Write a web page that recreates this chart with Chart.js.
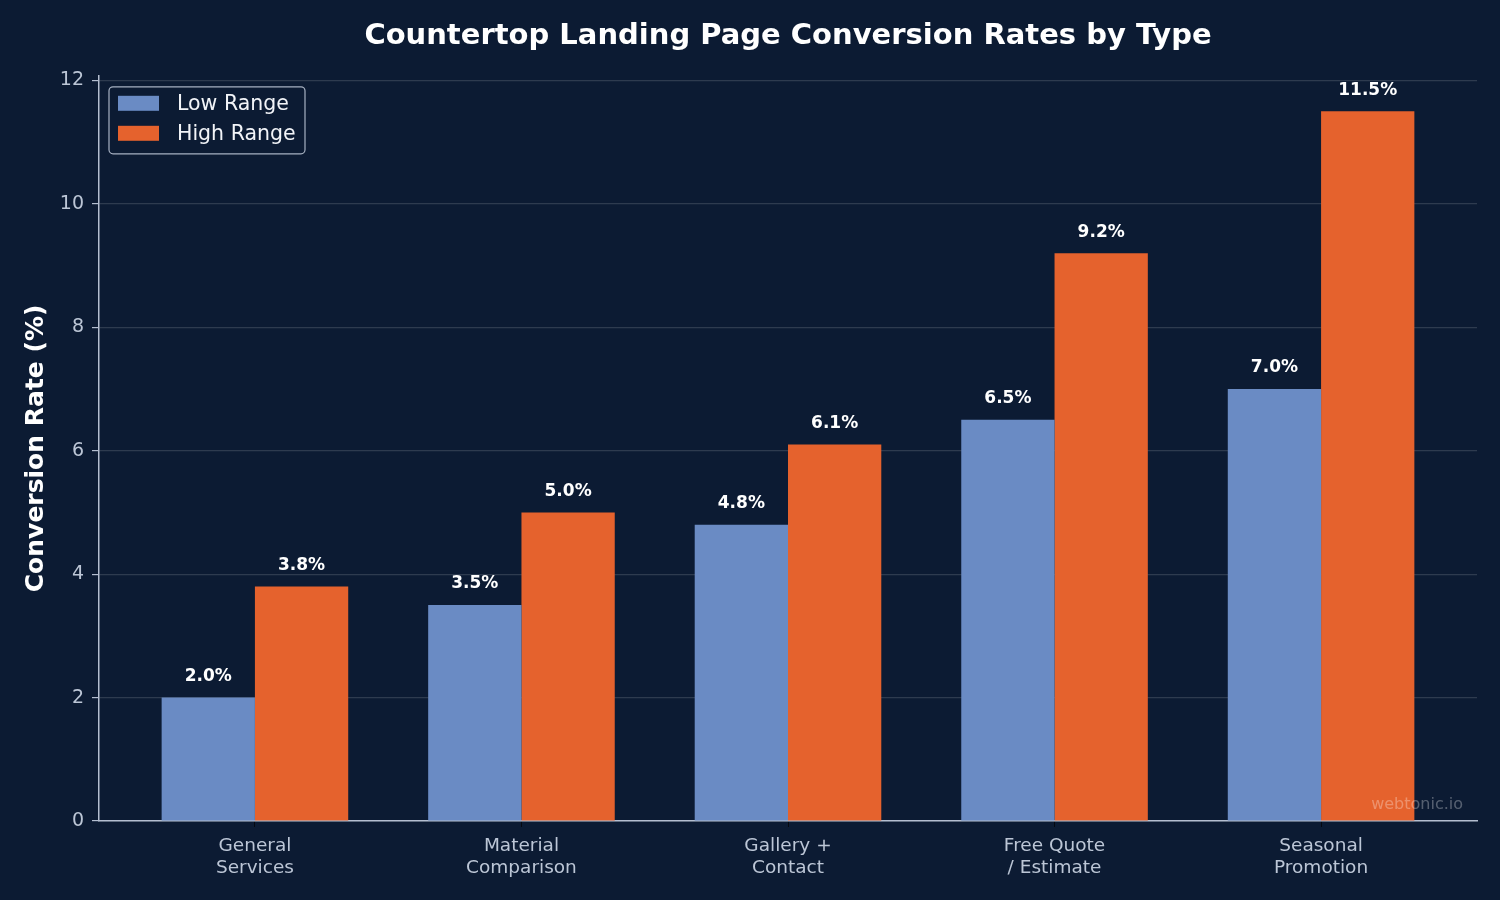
<!DOCTYPE html>
<html>
<head>
<meta charset="utf-8">
<title>Countertop Landing Page Conversion Rates</title>
<script src="https://cdn.jsdelivr.net/npm/chart.js@4"></script>
<style>
  html, body { margin: 0; padding: 0; background: #0c1b33; }
  #wrap { width: 1500px; height: 900px; }
</style>
</head>
<body>
<div id="wrap"><canvas id="chart" width="1500" height="900"></canvas></div>
<script>
// Data
const categories = [
    ['General', 'Services'],
    ['Material', 'Comparison'],
    ['Gallery +', 'Contact'],
    ['Free Quote', '/ Estimate'],
    ['Seasonal', 'Promotion']
];
const lowRange = [2.0, 3.5, 4.8, 6.5, 7.0];
const highRange = [3.8, 5.0, 6.1, 9.2, 11.5];
const yTicks = [0, 2, 4, 6, 8, 10, 12];

const bgColor = '#0c1b33';
const spineColor = '#b4bed0';
const tickTextColor = '#bcc6d6';

Chart.defaults.font.family = "'DejaVu Sans', sans-serif";

// Legend drawn inside the plot with a frame, like the original
const boxedLegend = {
    id: 'boxedLegend',
    afterDraw(chart) {
        const ctx = chart.ctx;
        const x = chart.chartArea.left + 10, y = chart.chartArea.top + 11;
        ctx.save();
        ctx.beginPath();
        ctx.roundRect(x, y, 196, 67, 4);
        ctx.fillStyle = 'rgba(12,27,51,0.8)';
        ctx.fill();
        ctx.strokeStyle = '#a7b1c2';
        ctx.lineWidth = 1.2;
        ctx.stroke();
        ctx.font = "20.5px 'DejaVu Sans'";
        ctx.textBaseline = 'middle';
        chart.data.datasets.forEach((ds, i) => {
            const rowY = y + 18 + i * 30;
            ctx.fillStyle = ds.backgroundColor;
            ctx.fillRect(x + 9, rowY - 9, 41, 15);
            ctx.fillStyle = '#f2f4f8';
            ctx.fillText(ds.label, x + 68, rowY);
        });
        ctx.restore();
    }
};

// Value labels above each bar + watermark
const barLabels = {
    id: 'barLabels',
    afterDraw(chart) {
        const ctx = chart.ctx;
        ctx.save();
        ctx.font = "bold 17px 'DejaVu Sans'";
        ctx.fillStyle = '#ffffff';
        ctx.textAlign = 'center';
        ctx.textBaseline = 'middle';
        chart.data.datasets.forEach((ds, i) => {
            chart.getDatasetMeta(i).data.forEach((bar, j) => {
                ctx.fillText(ds.data[j].y.toFixed(1) + '%', bar.x, bar.y - 21);
            });
        });
        ctx.font = "16px 'DejaVu Sans'";
        ctx.fillStyle = 'rgba(255,255,255,0.3)';
        ctx.textAlign = 'right';
        ctx.fillText('webtonic.io', chart.chartArea.right - 14, chart.chartArea.bottom - 16);
        ctx.restore();
    }
};

const ctx = document.getElementById('chart').getContext('2d');
const myChart = new Chart(ctx, {
    type: 'bar',
    data: {
        datasets: [
            {
                label: 'Low Range',
                data: lowRange.map((v, i) => ({ x: i, y: v })),
                backgroundColor: '#6a8bc4',
                categoryPercentage: 0.7,
                barPercentage: 1.0
            },
            {
                label: 'High Range',
                data: highRange.map((v, i) => ({ x: i, y: v })),
                backgroundColor: '#e5622d',
                categoryPercentage: 0.7,
                barPercentage: 1.0
            }
        ]
    },
    options: {
        responsive: false,
        animation: false,
        layout: { padding: { top: 0, right: 23, bottom: 0, left: 0 } },
        plugins: {
            legend: { display: false },
            tooltip: { enabled: false },
            title: {
                display: true,
                fullSize: false,
                text: 'Countertop Landing Page Conversion Rates by Type',
                color: '#ffffff',
                font: { size: 29, weight: 'bold' },
                padding: { top: 19, bottom: 22 }
            }
        },
        scales: {
            x: {
                type: 'linear',
                min: -0.585,
                max: 4.585,
                offset: false,
                afterBuildTicks: (scale) => {
                    scale.ticks = categories.map((c, i) => ({ value: i }));
                },
                afterFit: (scale) => { scale.height = 79; },
                ticks: {
                    color: tickTextColor,
                    font: { size: 18.5 },
                    padding: 8,
                    maxRotation: 0,
                    callback: (value) => categories[value]
                },
                grid: {
                    offset: false,
                    drawOnChartArea: false,
                    tickLength: 6,
                    tickColor: '#05080f'
                },
                border: { color: spineColor, width: 1.5 }
            },
            y: {
                min: 0,
                max: 12.075,
                z: 1,
                afterBuildTicks: (scale) => {
                    scale.ticks = yTicks.map(v => ({ value: v }));
                },
                afterFit: (scale) => { scale.width = 99; },
                ticks: {
                    color: tickTextColor,
                    font: { size: 19 },
                    padding: 8
                },
                grid: {
                    color: 'rgba(255,255,255,0.14)',
                    lineWidth: 1.2,
                    tickLength: 7,
                    tickColor: spineColor
                },
                border: { color: spineColor, width: 1.5 },
                title: {
                    display: true,
                    text: 'Conversion Rate (%)',
                    color: '#ffffff',
                    font: { size: 25, weight: 'bold' },
                    padding: { top: 21, bottom: 0 }
                }
            }
        }
    },
    plugins: [boxedLegend, barLabels]
});
</script>
</body>
</html>
